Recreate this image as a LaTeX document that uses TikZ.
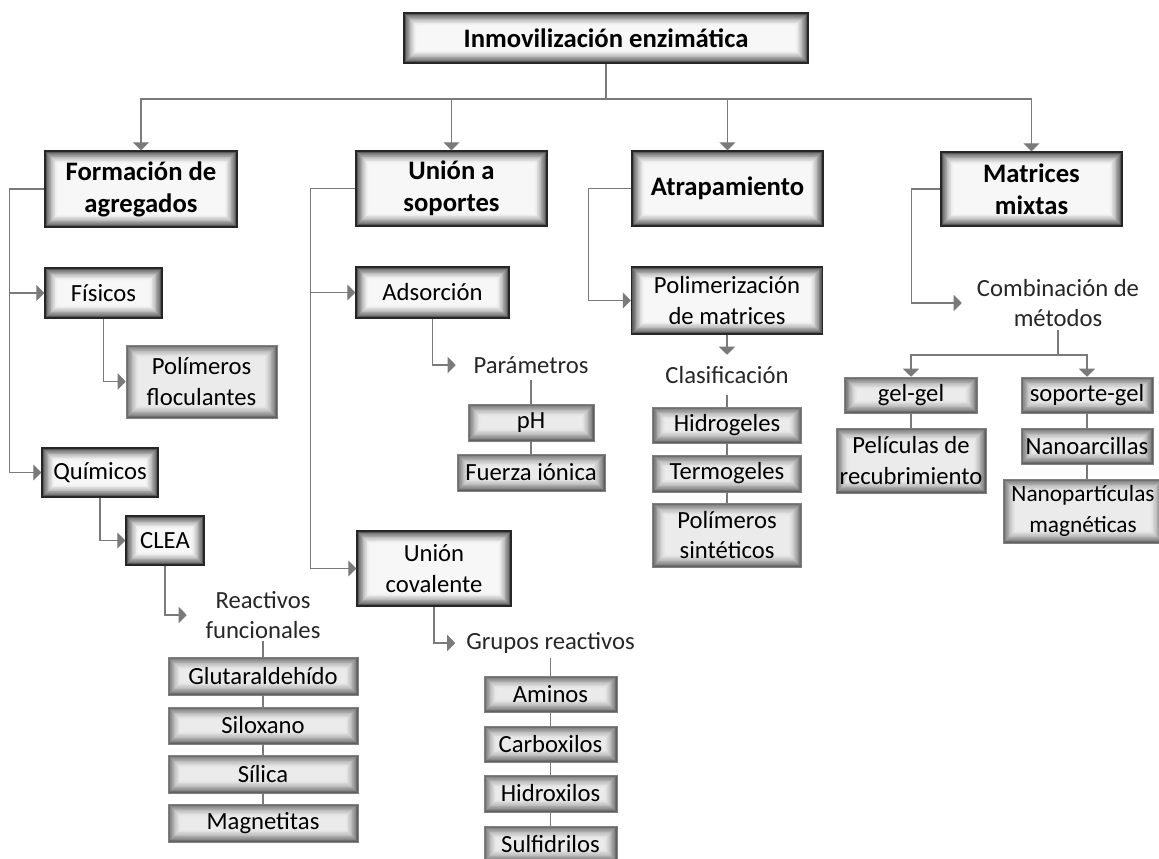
\documentclass[tikz,border=0pt]{standalone}
\usepackage{fontspec}
\setmainfont{Carlito}
\usetikzlibrary{arrows.meta,calc}
\newcommand\glowbox[3]{%
  \foreach \i in {0,...,#3}{%
    \pgfmathsetmacro\v{#2+(#1-#2)*(1-\i/#3)^1.6}%
    \fill[black!\v] ([shift={(\i*0.6pt,\i*0.6pt)}]path picture bounding box.south west) rectangle ([shift={(-\i*0.6pt,-\i*0.6pt)}]path picture bounding box.north east);
  }}
\tikzset{
 dbox/.style={draw=black!85, line width=1.1pt, path picture={\glowbox{72}{3}{16}}, align=center, inner sep=2pt},
 gbox/.style={draw=black!50, line width=0.4pt, path picture={\glowbox{62}{8}{16}}, align=center, inner sep=2pt},
 bold/.style={font=\fontsize{20}{24}\selectfont\bfseries},
 ftext/.style={align=center, text=black!85, inner sep=1pt},
 sz/.style 2 args={minimum width=#1*0.75pt, minimum height=#2*0.75pt},
 ln/.style={draw=black!52, line width=1pt},
 arr/.style={ln, -{Triangle[length=6pt,width=12pt]}}
}
\begin{document}
\begin{tikzpicture}[x=0.75pt,y=-0.75pt, every node/.style={font=\fontsize{18.5}{23}\selectfont}]
\useasboundingbox (0,0) rectangle (1159,858);
% nodes
\node[dbox,bold,sz={404}{50}] (top) at (606,38) {Inmovilización enzimática};
\node[dbox,bold,sz={192}{76}] (form) at (141,189) {Formación de\\agregados};
\node[dbox,bold,sz={191}{75}] (uni) at (451.5,188.5) {Unión a\\soportes};
\node[dbox,bold,sz={191}{75}] (atr) at (727.5,188.5) {Atrapamiento};
\node[dbox,bold,sz={181}{74}] (mat) at (1031.5,189) {Matrices\\mixtas};
\node[dbox,sz={117}{50}] (fis) at (103.5,293) {Físicos};
\node[gbox,sz={151}{73}] (pfl) at (201.5,381.5) {Polímeros\\floculantes};
\node[dbox,sz={116}{49}] (qui) at (100,472.5) {Químicos};
\node[dbox,sz={78}{49}] (clea) at (165,540.5) {CLEA};
\node[ftext,sz={152}{50}] (reac) at (263,615) {Reactivos\\funcionales};
\node[gbox,sz={190}{38}] (glu) at (263,676) {Glutaraldehído};
\node[gbox,sz={190}{37}] (silx) at (263,725.5) {Siloxano};
\node[gbox,sz={190}{38}] (sili) at (263,774) {Sílica};
\node[gbox,sz={190}{38}] (magn) at (263,823) {Magnetitas};
\node[dbox,sz={153}{51}] (ads) at (432.5,292.5) {Adsorción};
\node[ftext,sz={150}{30}] (par) at (531,365) {Parámetros};
\node[gbox,sz={126}{37}] (ph) at (531,422.5) {pH};
\node[gbox,sz={148}{37}] (fue) at (531,472.5) {Fuerza iónica};
\node[dbox,sz={154}{75}] (cov) at (434,568.5) {Unión\\covalente};
\node[ftext,sz={190}{30}] (gru) at (550.5,643) {Grupos reactivos};
\node[gbox,sz={133}{36}] (ami) at (550.5,694) {Aminos};
\node[gbox,sz={133}{36}] (carb) at (550.5,744) {Carboxilos};
\node[gbox,sz={133}{37}] (hidr) at (550.5,793.5) {Hidroxilos};
\node[gbox,sz={133}{36}] (sulf) at (550.5,844) {Sulfidrilos};
\node[dbox,sz={191}{67}] (polm) at (727,300.5) {Polimerización\\de matrices};
\node[ftext,sz={150}{40}] (clas) at (727,375) {Clasificación};
\node[gbox,sz={149}{36}] (hig) at (727,425) {Hidrogeles};
\node[gbox,sz={149}{37}] (ter) at (727,473.5) {Termogeles};
\node[gbox,sz={149}{64}] (psin) at (727,535) {Polímeros\\sintéticos};
\node[ftext,sz={192}{54}] (comb) at (1058,303) {Combinación de\\métodos};
\node[gbox,sz={133}{36}] (gel) at (911,395) {gel-gel};
\node[gbox,sz={150}{65}] (pel) at (911,460.5) {Películas de\\recubrimiento};
\node[gbox,sz={132}{36}] (sop) at (1087,395) {soporte-gel};
\node[gbox,sz={132}{36}] (nan) at (1087,446) {Nanoarcillas};
\node[gbox,sz={160}{64},font=\fontsize{17.5}{23}\selectfont] (nap) at (1083,511) {Nanopartículas\\magnéticas};
% connectors
\coordinate (tj) at (606,99);
\draw[ln] (top.south) -- (tj);
\foreach \n in {form,uni,atr,mat} \draw[arr] (tj) -| (\n.north);
\draw[arr] (form.west) -- ++(-35,0) |- (fis.west);
\draw[arr] (form.west) -- ++(-35,0) |- (qui.west);
\draw[arr] (fis.south) |- (pfl.west);
\draw[arr] (qui.south) |- (clea.west);
\draw[arr] (clea.south) |- (reac.west);
\draw[ln] (reac.south) -- (glu.north);
\draw[ln] (glu) -- (silx) -- (sili) -- (magn);
\draw[arr] (uni.west) -- ++(-45,0) |- (ads.west);
\draw[arr] (uni.west) -- ++(-45,0) |- (cov.west);
\draw[arr] (ads.south) |- (par.west);
\draw[ln] (par) -- (ph) -- (fue);
\draw[arr] (cov.south) |- (gru.west);
\draw[ln] (gru) -- (ami) -- (carb) -- (hidr) -- (sulf);
\draw[arr] (atr.west) -- ++(-43,0) |- (polm.west);
\draw[arr] (polm.south) -- (clas.north);
\draw[ln] (clas) -- (hig) -- (ter) -- (psin);
\draw[arr] (mat.west) -- ++(-29,0) |- (comb.west);
\coordinate (cj) at (1058,355);
\draw[ln] (comb.south) -- (cj);
\draw[arr] (cj) -| (gel.north);
\draw[arr] (cj) -| (sop.north);
\draw[ln] (gel) -- (pel);
\draw[ln] (sop) -- (nan.north);
\draw[ln] (nan.south) -- (nan.south |- nap.north);
\end{tikzpicture}
\end{document}
